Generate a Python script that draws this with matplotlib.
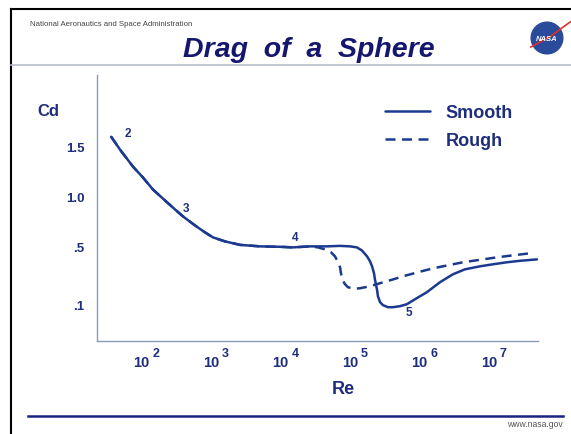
import numpy as np
import matplotlib
matplotlib.use("Agg")
import matplotlib.pyplot as plt
from matplotlib.lines import Line2D
from matplotlib.patches import Circle

plt.rcParams['font.family'] = ['Liberation Sans', 'DejaVu Sans']

# drag coefficient vs Reynolds number
re_smooth = [32, 43, 66, 92, 128, 191, 266, 347, 515, 718, 935, 1390, 2290,
             4440, 8610, 13200, 23300, 40900, 63000, 87500, 110000, 130000,
             154000, 170000, 182000, 194000, 200000, 214000, 221000, 237000,
             261000, 308000, 364000, 459000, 579000, 755000, 1120000, 1730000,
             2660000, 3950000, 6500000, 10000000, 15900000, 24400000, 43000000]
cd_smooth = [1.60, 1.47, 1.30, 1.19, 1.07, 0.96, 0.87, 0.80, 0.71, 0.64, 0.59,
             0.55, 0.515, 0.50, 0.497, 0.493, 0.50, 0.50, 0.505, 0.50, 0.493,
             0.472, 0.431, 0.397, 0.362, 0.314, 0.272, 0.203, 0.155, 0.114,
             0.093, 0.079, 0.079, 0.086, 0.10, 0.134, 0.183, 0.252, 0.307,
             0.341, 0.362, 0.376, 0.39, 0.40, 0.41]

re_rough = [32, 43, 66, 92, 128, 191, 266, 347, 515, 718, 935, 1390, 2290,
            4440, 8610, 13200, 23300, 30300, 38300, 46700, 53300, 58900, 63000,
            65000, 67200, 74300, 82000, 100000, 122000, 170000, 237000, 352000,
            507000, 834000, 1370000, 2250000, 3700000, 6500000, 11400000,
            19400000, 34100000]
cd_rough = [1.60, 1.47, 1.30, 1.19, 1.07, 0.96, 0.87, 0.80, 0.71, 0.64, 0.59,
            0.55, 0.515, 0.50, 0.497, 0.493, 0.50, 0.493, 0.479, 0.459, 0.431,
            0.39, 0.355, 0.314, 0.272, 0.238, 0.217, 0.207, 0.21, 0.224, 0.245,
            0.269, 0.293, 0.321, 0.348, 0.369, 0.39, 0.407, 0.424, 0.438, 0.452]

region_labels = ['2', '3', '4', '5']
region_re = [56, 383, 14200, 618000]
region_cd = [1.64, 0.89, 0.59, 0.045]

y_ticks = [1.5, 1.0, 0.5, 0.1]
y_tick_labels = ['1.5', '1.0', '.5', '.1']
x_ticks = [1e2, 1e3, 1e4, 1e5, 1e6, 1e7]
x_tick_powers = ['2', '3', '4', '5', '6', '7']

navy = '#1b3a8f'
text_navy = '#1e2e7c'


# the Cd axis is stretched below 0.5
def fwd(c):
    c = np.asarray(c, dtype=float)
    return np.where(c >= 0.5, c, 0.5 - (0.5 - c) * 1.45)


def inv(v):
    v = np.asarray(v, dtype=float)
    return np.where(v >= 0.5, v, 0.5 - (0.5 - v) / 1.45)


fig = plt.figure(figsize=(5.71, 4.35), dpi=100)
ax = fig.add_axes([97 / 571, 1 - 342 / 435, 441 / 571, 266 / 435])
ax.set_xscale('log')
ax.set_yscale('function', functions=(fwd, inv))
ax.set_xlim(20.0, 4.45e7)
ax.set_ylim(-0.155, 2.22)

ax.plot(re_smooth, cd_smooth, color=navy, lw=1.8, label='Smooth',
        solid_capstyle='round', solid_joinstyle='round')
ax.plot(re_rough, cd_rough, color=navy, lw=1.8, ls=(0, (4, 2.6)), label='Rough')

for lab, r, c in zip(region_labels, region_re, region_cd):
    ax.text(r, c, lab, color=text_navy, fontsize=8.5, fontweight='bold',
            ha='center', va='center')

for s in ['top', 'right']:
    ax.spines[s].set_visible(False)
for s in ['left', 'bottom']:
    ax.spines[s].set_color('#8c9ab8')
    ax.spines[s].set_linewidth(1.0)

ax.minorticks_off()
ax.set_xticks(x_ticks)
ax.set_xticklabels([])
ax.set_yticks(y_ticks)
ax.set_yticklabels(y_tick_labels)
ax.tick_params(length=0, colors=text_navy, labelsize=9.5)
ax.tick_params(axis='y', pad=9)
for t in ax.get_yticklabels():
    t.set_fontweight('bold')

# powers of ten written as "10" with a raised exponent
for val, p in zip(x_ticks, x_tick_powers):
    ax.annotate('10', xy=(val, 0), xycoords=('data', 'axes fraction'),
                xytext=(-3, -18), textcoords='offset points', ha='center',
                va='baseline', fontsize=10.5, fontweight='bold', color=text_navy)
    ax.annotate(p, xy=(val, 0), xycoords=('data', 'axes fraction'),
                xytext=(5, -10.8), textcoords='offset points', ha='left',
                va='baseline', fontsize=9, fontweight='bold', color=text_navy)

fig.text(343 / 571, 1 - 390 / 435, 'Re', color=text_navy, fontsize=13,
         fontweight='bold', ha='center', va='center')
fig.text(48 / 571, 1 - 112 / 435, 'Cd', color=text_navy, fontsize=12,
         fontweight='bold', ha='center', va='center')

leg = ax.legend(loc='upper left', bbox_to_anchor=(0.633, 0.924), frameon=False,
                handlelength=2.5, handletextpad=0.85, labelspacing=0.6,
                prop={'size': 13, 'weight': 'bold'}, borderpad=0)
for t in leg.get_texts():
    t.set_color(text_navy)

# slide decorations
fig.add_artist(Line2D([11 / 571, 1], [1 - 10 / 435] * 2, color='black', lw=1.5,
                      transform=fig.transFigure))
fig.add_artist(Line2D([11 / 571] * 2, [0, 1 - 10 / 435], color='black', lw=1.5,
                      transform=fig.transFigure))
fig.add_artist(Line2D([11 / 571, 1], [1 - 66 / 435] * 2, color='#b8bcc8', lw=1.2,
                      transform=fig.transFigure))
fig.add_artist(Line2D([28 / 571, 563 / 571], [1 - 417 / 435] * 2, color='#1a237e',
                      lw=1.8, transform=fig.transFigure))

fig.text(30 / 571, 1 - 24 / 435, 'National Aeronautics and Space Administration',
         fontsize=5.6, color='#444444', ha='left', va='center')
fig.text(309 / 571, 1 - 57 / 435, 'Drag  of  a  Sphere', fontsize=20.5,
         fontweight='bold', fontstyle='italic', color='#15166e',
         ha='center', va='baseline')
fig.text(563 / 571, 1 - 425 / 435, 'www.nasa.gov', fontsize=6.2, color='#555555',
         ha='right', va='center')

# NASA meatball
lax = fig.add_axes([529 / 571, 1 - 57 / 435, 36 / 571, 36 / 435])
lax.set_xlim(-1, 1)
lax.set_ylim(-1, 1)
lax.set_aspect('equal')
lax.axis('off')
lax.add_patch(Circle((0, 0), 0.88, color='#2a4a9a'))
lax.plot([-0.9, 0.2, 1.3], [-0.5, 0.1, 0.9], color='#e0302a', lw=1.2, clip_on=False)
lax.text(0, 0, 'NASA', color='white', fontsize=5.5, fontweight='bold',
         fontstyle='italic', ha='center', va='center')

fig.savefig('out.png', dpi=100)
